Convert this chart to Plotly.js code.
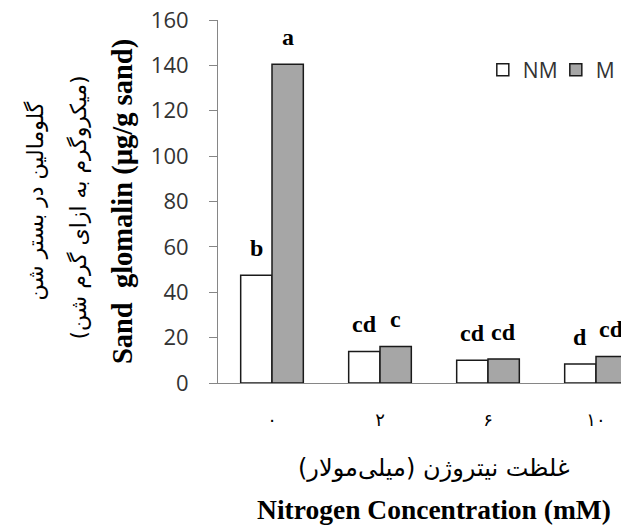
<!DOCTYPE html>
<html>
<head>
<meta charset="utf-8">
<script src="https://cdn.plot.ly/plotly-3.0.1.min.js"></script>
<style>html,body{margin:0;padding:0;background:#fff;overflow:hidden;width:621px;height:527px;}#chart{width:650px;height:527px;}</style>
</head>
<body>
<div id="chart"></div>
<script>
const categories = ['۰', '۲', '۶', '۱۰'];
const seriesNames = ['NM', 'M'];
const nmValues = [47.5, 13.9, 10.0, 8.4];
const mValues = [140.5, 16.1, 10.6, 11.7];
const nmLetters = ['b', 'cd', 'cd', 'd'];
const mLetters = ['a', 'c', 'cd', 'cd'];
const yTickValues = [0, 20, 40, 60, 80, 100, 120, 140, 160];

const letterFont = {family: 'Liberation Serif', size: 24, color: '#000'};
const barLine = {color: '#1a1a1a', width: 1.5};

const traces = [
  {type: 'bar', name: seriesNames[0], x: categories, y: nmValues,
   marker: {color: '#ffffff', line: barLine}},
  {type: 'bar', name: seriesNames[1], x: categories, y: mValues,
   marker: {color: '#a6a6a6', line: barLine}}
];

const annotations = [];
categories.forEach((c, i) => {
  annotations.push({x: c, y: nmValues[i], xref: 'x', yref: 'y', text: '<b>' + nmLetters[i] + '</b>',
    showarrow: false, yanchor: 'bottom', xshift: -15.7, yshift: 12, font: letterFont});
  annotations.push({x: c, y: mValues[i], xref: 'x', yref: 'y', text: '<b>' + mLetters[i] + '</b>',
    showarrow: false, yanchor: 'bottom', xshift: 15.7, yshift: 12, font: letterFont});
});
// Persian axis titles
annotations.push({xref: 'paper', yref: 'paper', x: 0, y: 0.5, xanchor: 'center', yanchor: 'middle',
  xshift: -183, yshift: 0,
  text: 'گلومالین در بستر شن', textangle: -90, showarrow: false,
  font: {family: 'DejaVu Sans', size: 22, color: '#000'}});
annotations.push({xref: 'paper', yref: 'paper', x: 0, y: 0.5, xanchor: 'center', yanchor: 'middle',
  xshift: -140, yshift: -6,
  text: '(میکروگرم به ازای گرم شن)', textangle: -90, showarrow: false,
  font: {family: 'DejaVu Sans', size: 22, color: '#000'}});
annotations.push({xref: 'paper', yref: 'paper', x: 0.5, y: 0, xanchor: 'center', yanchor: 'middle',
  xshift: 0, yshift: -85,
  text: 'غلظت نیتروژن (میلی‌مولار)', showarrow: false,
  font: {family: 'DejaVu Sans', size: 24, color: '#000'}});

const layout = {
  width: 650, height: 527,
  margin: {l: 218, r: 0, t: 20, b: 144, autoexpand: false},
  paper_bgcolor: '#fff', plot_bgcolor: '#fff',
  barmode: 'group', bargap: 0.42, bargroupgap: 0,
  showlegend: true,
  legend: {orientation: 'h', x: 0.613, y: 0.862, xanchor: 'left', yanchor: 'middle',
    font: {family: 'Open Sans', size: 21, color: '#333'}, itemwidth: 30, entrywidth: 28, traceorder: 'normal',
    bgcolor: 'rgba(0,0,0,0)'},
  xaxis: {type: 'category', range: [-0.5, 3.5], showline: true, linecolor: '#868686', linewidth: 1,
    ticks: '', showgrid: false, zeroline: false, automargin: false,
    tickfont: {family: 'DejaVu Sans', size: 18, color: '#000'}, ticklabelstandoff: 20,
    title: {text: '<b>Nitrogen Concentration (mM)</b>', font: {family: 'Liberation Serif', size: 27.5, color: '#000'}, standoff: 71}},
  yaxis: {range: [0, 160], tickvals: yTickValues, showline: true, linecolor: '#868686', linewidth: 1,
    ticks: 'outside', ticklen: 8, tickcolor: '#868686', showgrid: false, zeroline: false, automargin: false,
    tickfont: {family: 'Open Sans', size: 22, color: '#333'}, ticklabelstandoff: 16,
    title: {text: '<b>Sand  glomalin (µg/g sand)</b>', font: {family: 'Liberation Serif', size: 28.5, color: '#000'}, standoff: 9}},
  annotations: annotations
};

Plotly.newPlot('chart', traces, layout, {displayModeBar: false, staticPlot: true});
</script>
</body>
</html>
